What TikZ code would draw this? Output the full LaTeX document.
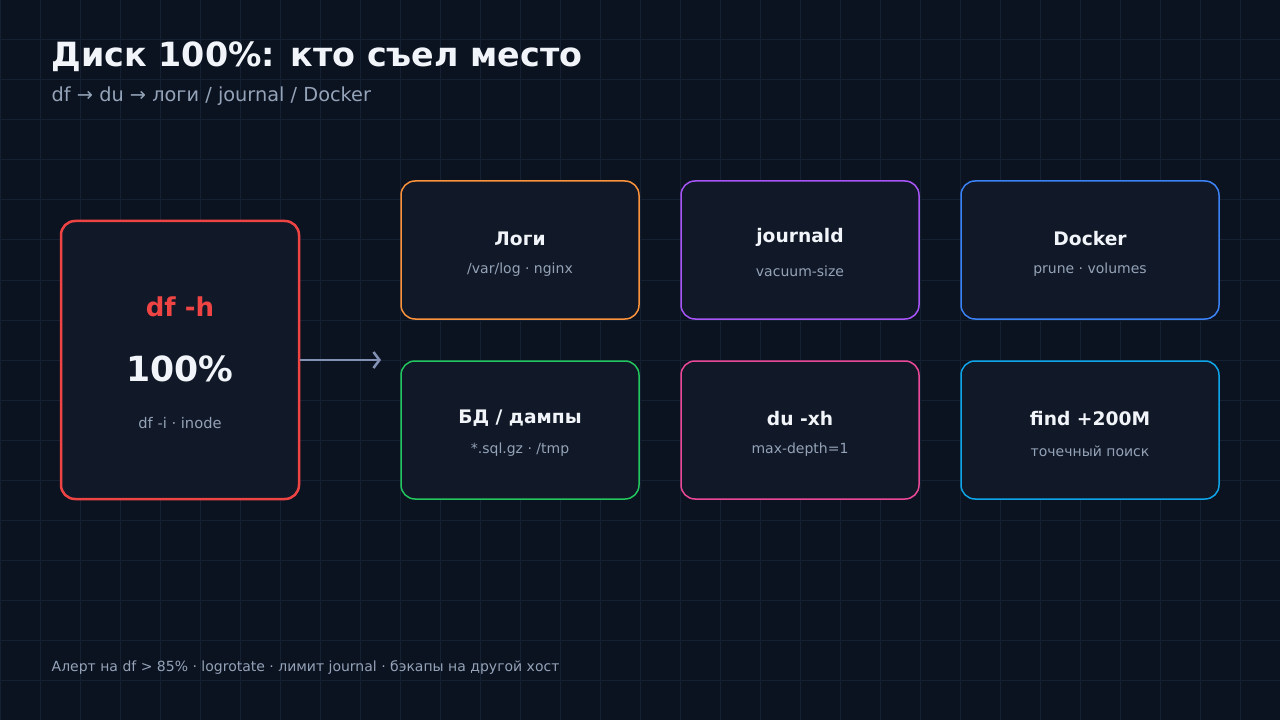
\documentclass[tikz,border=0pt]{standalone}
\usepackage{fontspec}
\setmainfont{DejaVu Sans}
\usetikzlibrary{arrows.meta}
\definecolor{bgc}{HTML}{0B1220}
\definecolor{gridc}{HTML}{152033}
\definecolor{boxc}{HTML}{111827}
\definecolor{txtc}{HTML}{F1F5F9}
\definecolor{subc}{HTML}{94A3B8}
\definecolor{arrc}{HTML}{8391B5}
\definecolor{redc}{HTML}{EF4444}
\definecolor{orgc}{HTML}{FB923C}
\definecolor{purc}{HTML}{A855F7}
\definecolor{bluc}{HTML}{3B82F6}
\definecolor{grnc}{HTML}{22C55E}
\definecolor{pnkc}{HTML}{EC4899}
\definecolor{cyac}{HTML}{0EA5E9}
\tikzset{
  card/.style={draw=#1, fill=boxc, line width=1.125pt, rounded corners=10.5pt},
  ttl/.style={text=txtc, font=\bfseries\fontsize{14}{16}\selectfont},
  sub/.style={text=subc, font=\fontsize{10.5}{12}\selectfont},
}
\begin{document}
\begin{tikzpicture}[x=0.75pt, y=-0.75pt]
  \fill[bgc] (0,0) rectangle (1280,720);
  \useasboundingbox (0,0) rectangle (1280,720);
  \foreach \i in {0,40,...,1280} {
    \draw[gridc, line width=0.75pt] (\i,0) -- (\i,720);
  }
  \foreach \j in {0,40,...,720} {
    \draw[gridc, line width=0.75pt] (0,\j) -- (1280,\j);
  }

  \node[anchor=west, text=txtc, font=\bfseries\fontsize{25}{28}\selectfont] (title) at (47,57) {Диск 100\%: кто съел место};
  \node[anchor=west, text=subc, font=\fontsize{14.5}{17}\selectfont] (subtitle) at (47,96) {df → du → логи / journal / Docker};

  % disk card
  \draw[card=redc, line width=1.875pt] (61,221) rectangle (299,499);
  \coordinate (left) at (300,360);
  \node[text=redc, font=\bfseries\fontsize{19.5}{22}\selectfont] (dfh) at (180,307) {df -h};
  \node[text=txtc, font=\bfseries\fontsize{26}{30}\selectfont] (pct) at (180,369) {100\%};
  \node[sub, font=\fontsize{11}{13}\selectfont] (inode) at (180,423) {df -i · inode};

  \coordinate (tip) at (381,360);
  \draw[arrc, line width=1.875pt, -{Straight Barb[length=4.5pt,width=12pt]}] (left) -- (tip);

  % top row
  \draw[card=orgc] (401,181) rectangle (639,319);
  \node[ttl] (logs) at (520,239) {Логи};
  \node[sub] (logs-s) at (520,270) {/var/log · nginx};

  \draw[card=purc] (681,181) rectangle (919,319);
  \node[ttl] (jrn) at (800,237) {journald};
  \node[sub] (jrn-s) at (800,271) {vacuum-size};

  \draw[card=bluc] (961,181) rectangle (1219,319);
  \node[ttl] (dock) at (1090,239) {Docker};
  \node[sub] (dock-s) at (1090,270) {prune · volumes};

  % bottom row
  \draw[card=grnc] (401,361) rectangle (639,499);
  \node[ttl] (db) at (520,418) {БД / дампы};
  \node[sub] (db-s) at (520,450) {*.sql.gz · /tmp};

  \draw[card=pnkc] (681,361) rectangle (919,499);
  \node[ttl] (du) at (800,419) {du -xh};
  \node[sub] (du-s) at (800,450) {max-depth=1};

  \draw[card=cyac] (961,361) rectangle (1219,499);
  \node[ttl] (find) at (1090,419) {find +200M};
  \node[sub] (find-s) at (1090,451) {точечный поиск};

  \node[anchor=west, sub, font=\fontsize{10.5}{12}\selectfont] (foot) at (47,668) {Алерт на df > 85\% · logrotate · лимит journal · бэкапы на другой хост};
\end{tikzpicture}
\end{document}
